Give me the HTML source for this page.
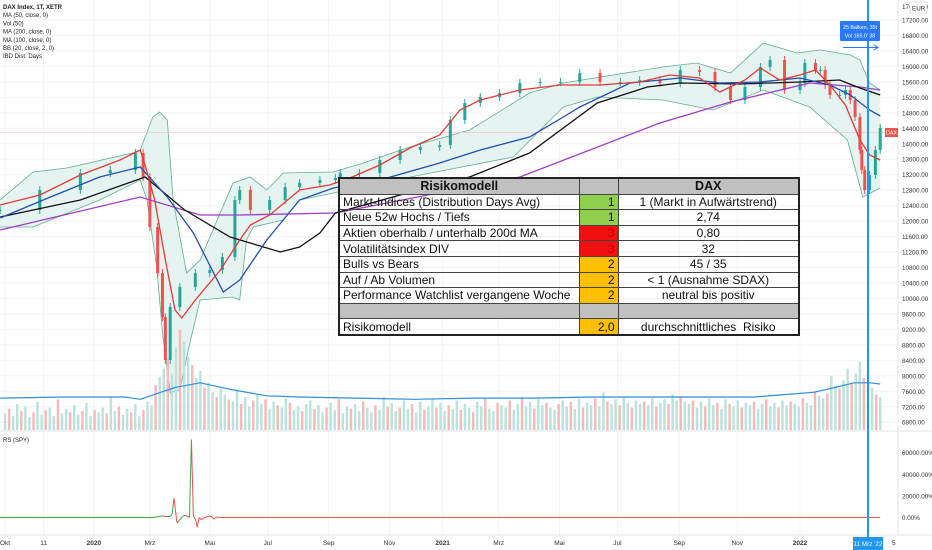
<!DOCTYPE html>
<html><head><meta charset="utf-8"><style>
body{margin:0;background:#fff;font-family:"Liberation Sans",Arial,sans-serif}
#wrap{position:relative;width:932px;height:550px;overflow:hidden}
svg text{font-family:"Liberation Sans",Arial,sans-serif}
table{position:absolute;left:338px;top:177px;width:460px;table-layout:fixed;border-collapse:collapse;font-size:12px;color:#111}
td{border:1px solid #444;height:14.6px;padding:0 3px;line-height:14px;white-space:nowrap;overflow:hidden}
</style></head><body><div id="wrap">
<svg id="s" width="932" height="550"></svg>
<table style="border:2px solid #222">
<colgroup><col style="width:240px"><col style="width:39px"><col style="width:181px"></colgroup>
<tr style="background:#c0c0c0;font-weight:bold;font-size:12.5px"><td style="text-align:center">Risikomodell</td><td></td><td style="text-align:center">DAX</td></tr>
<tr><td>Markt-Indices (Distribution Days Avg)</td><td style="background:#8fce4e;text-align:right">1</td><td style="text-align:center">1 (Markt in Aufwärtstrend)</td></tr>
<tr><td>Neue 52w Hochs / Tiefs</td><td style="background:#8fce4e;text-align:right">1</td><td style="text-align:center">2,74</td></tr>
<tr><td>Aktien oberhalb / unterhalb 200d MA</td><td style="background:#f01010;color:#b00;text-align:right">3</td><td style="text-align:center">0,80</td></tr>
<tr><td>Volatilitätsindex DIV</td><td style="background:#f01010;color:#b00;text-align:right">3</td><td style="text-align:center">32</td></tr>
<tr><td>Bulls vs Bears</td><td style="background:#fdbf00;text-align:right">2</td><td style="text-align:center">45 / 35</td></tr>
<tr><td>Auf / Ab Volumen</td><td style="background:#fdbf00;text-align:right">2</td><td style="text-align:center">&lt; 1 (Ausnahme SDAX)</td></tr>
<tr><td>Performance Watchlist vergangene Woche</td><td style="background:#fdbf00;text-align:right">2</td><td style="text-align:center">neutral bis positiv</td></tr>
<tr style="background:#c0c0c0"><td></td><td></td><td></td></tr>
<tr><td>Risikomodell</td><td style="background:#fdbf00;text-align:right">2,0</td><td style="text-align:center">durchschnittliches&nbsp; Risiko</td></tr>
</table>
</div>
<script>
// x values: calendar day offsets from 1 Oct 2019
const closeDays=[-5,36,78,109,135,143,150,158,163,166,171,181,197,212,225,238,243,254,274,290,305,326,342,347,367,388,409,430,450,461,476,492,512,533,554,575,595,616,637,657,678,699,719,735,751,766,782,792,807,823,828,839,844,849,854,864,870,875,880,885,887,890,895,901,906];
const closes=[12287,12804,13243,13321,13761,13140,11847,10657,9520,8408,9778,10295,10657,10735,11071,12545,12804,12287,12545,12881,12985,13062,13114,13243,13243,13580,13839,13916,13968,14614,15054,15209,15312,15571,15597,15597,15830,15597,15597,15648,15571,15907,15855,15467,15131,15467,15985,16166,15390,15571,16088,15907,15907,15519,15261,15261,15390,15131,14692,13839,13321,12804,13192,13839,14407];
const ma20Days=[-5,36,78,119,140,145,155,166,176,183,197,223,243,254,274,305,336,357,388,419,450,471,492,533,575,616,657,688,719,740,766,782,802,823,839,854,870,885,895,906];
const ma20=[12416,12675,13192,13580,13839,13450,12545,10993,9701,9494,9959,10735,11511,11899,12157,12804,12933,13114,13450,13890,14226,14873,15131,15390,15519,15519,15597,15778,15700,15338,15648,15959,15648,15778,15907,15519,15002,14097,13709,13580];
const ma50Days=[-5,47,98,140,168,195,226,243,271,305,340,388,450,492,543,578,595,647,699,740,782,823,854,875,895,906];
const ma50=[12080,12623,13140,13398,12623,11692,10166,10476,11511,12545,12856,13062,13502,13839,14174,14692,14950,15571,15700,15571,15597,15700,15519,15261,14873,14717];
const ma100Days=[-5,78,145,186,233,285,305,326,342,409,481,543,613,665,699,761,823,864,885,906];
const ma100=[12106,12545,13140,12287,11589,11201,11330,11692,12209,12675,13140,13761,15054,15467,15571,15545,15597,15648,15441,15261];
const ma200Days=[-5,140,202,243,342,533,678,751,833,885,906];
const ma200=[11770,12623,12157,12157,12209,13140,14537,15079,15571,15467,15390];
const bbUpDays=[-5,29,64,132,140,153,160,168,174,188,202,236,254,271,288,340,371,419,481,543,578,681,716,751,785,820,844,875,885,895,906];
const bbUp=[12545,13269,13373,13761,13839,14692,14821,14614,12545,10657,10993,12985,13140,12804,13243,13269,13502,13916,14356,15312,15571,15985,16088,15830,16605,16347,16424,16295,16166,15571,15390];
const bbLowDays=[-5,29,98,140,147,157,163,171,181,192,202,236,243,250,257,288,305,340,430,526,578,613,681,733,785,833,872,888,906];
const bbLow=[11847,11847,12545,13062,12545,10812,9106,7554,7632,8925,9959,10037,9959,11511,11847,12028,12545,12726,13192,13657,14950,15209,15131,14873,15390,14950,14097,12623,12856];
const vols=[14,18,12,22,16,20,11,15,24,13,17,19,12,26,14,18,15,21,13,16,23,12,17,15,19,14,28,16,20,13,18,15,22,12,17,24,21,38,45,52,60,48,70,85,75,62,55,44,50,36,40,32,28,35,30,26,24,33,22,28,20,25,30,22,26,18,24,21,19,27,23,17,20,16,22,25,18,21,15,19,23,17,26,14,20,18,22,16,24,19,15,21,17,28,20,23,16,19,25,18,22,15,24,17,20,26,19,23,16,21,18,25,17,22,19,15,24,20,27,18,16,23,21,19,25,17,22,28,20,24,18,26,21,23,19,17,22,25,20,24,18,26,19,23,21,27,20,32,24,22,26,21,28,23,19,25,22,24,21,27,20,23,26,22,30,25,28,24,22,25,19,24,20,27,21,23,18,26,22,20,25,19,23,21,24,18,22,26,20,23,19,25,21,24,22,20,27,23,21,33,29,27,31,46,38,35,42,52,40,48,58,44,50,36,30,28];
const volMaDays=[-5,62,124,140,176,202,236,271,305,362,424,486,548,610,672,735,776,807,838,859,879,895,906];
const volMa=[27,28,28,26,36,40,34,29,28,27,26,27,27,28,28,28,28,30,32,36,40,40,39];
const rsDays=[-5,153,158,163,167,171,173,175,178,184,187,191,193,195,197,199,201,203,208,213,216,219,223,300,906];
const rsVals=[0,0,600,1500,800,1200,3000,18000,-5000,1200,2000,0,72000,1000,-1000,-9000,0,-2000,500,1500,-1500,300,0,0,0];
const yTicks=[17200,16800,16400,16000,15600,15200,14800,14400,14000,13600,13200,12800,12400,12000,11600,11200,10800,10400,10000,9600,9200,8800,8400,8000,7600,7200,6800];
const rsTicks=[60000,40000,20000,0];
const dateLabels=["Okt","11","2020","Mrz","Mai","Jul","Sep","Nov","2021","Mrz","Mai","Jul","Sep","Nov","2022"];
const dateDays=[0,40,92,150,212,272,335,398,453,511,574,634,698,758,823];

const X=d=>5+d*0.966;
const Y=p=>20+(17200-p)*0.038675;
const VY=v=>430-v*1.18;
const RY=v=>517.5-v*0.001081;
const s=document.getElementById('s');const NS='http://www.w3.org/2000/svg';
function el(t,a,p){const e=document.createElementNS(NS,t);for(const k in a)e.setAttribute(k,a[k]);(p||s).appendChild(e);return e;}
function pts(ds,vs,f){return ds.map((d,i)=>X(d).toFixed(1)+','+f(vs[i]).toFixed(1));}
yTicks.forEach(t=>{const g=el('line',{x1:0,x2:898,y1:Y(t),y2:Y(t),stroke:'#f4f4f4'});});
dateDays.forEach(d=>{const g=el('line',{x1:X(d),x2:X(d),y1:0,y2:535,stroke:'#f4f4f4'});});
const bf=el('polygon',{points:pts(bbUpDays,bbUp,Y).concat(pts(bbLowDays,bbLow,Y).reverse()).join(' '),fill:'#e6f4f1',stroke:'none'});

[[bbUpDays,bbUp,'bollinger-upper'],[bbLowDays,bbLow,'bollinger-lower']].forEach(([d,v,n])=>{const l=el('polyline',{points:pts(d,v,Y).join(' '),fill:'none',stroke:'#5fae98','stroke-width':0.8});});
vols.forEach((v,i)=>{const d=i*906/(vols.length-1);const up=i%3!==1;const r=el('rect',{x:X(d)-1.2,y:VY(v),width:2.4,height:430-VY(v),fill:up?'#b9e3dc':'#f7b8b8'});});
const vm=el('polyline',{points:pts(volMaDays,volMa,VY).join(' '),fill:'none',stroke:'#2f8fd8','stroke-width':1.2});
const pl=el('line',{x1:0,x2:898,y1:132.5,y2:132.5,stroke:'#f9c7c7','stroke-width':0.8});
closes.forEach((c,i)=>{const o=i?closes[i-1]:c;const up=c>=o;const col=up?'#26a69a':'#ef5350';const x=X(closeDays[i]);
const w=el('line',{x1:x,x2:x,y1:Y(Math.max(o,c))-4,y2:Y(Math.min(o,c))+4,stroke:col,'stroke-width':1});
const r=el('rect',{x:x-1.5,y:Y(Math.max(o,c)),width:3,height:Math.max(1,Math.abs(Y(o)-Y(c))),fill:col});});
[[ma200Days,ma200,'#a03cc8','ma-200'],[ma100Days,ma100,'#111','ma-100'],[ma50Days,ma50,'#1f4fb0','ma-50'],[ma20Days,ma20,'#e53935','bollinger-basis']].forEach(([d,v,c,n])=>{const l=el('polyline',{points:pts(d,v,Y).join(' '),fill:'none',stroke:c,'stroke-width':1.3});});
const dv=el('line',{x1:0,x2:932,y1:431,y2:431,stroke:'#e0e3eb'});
for(let i=1;i<rsDays.length;i++){const l=el('line',{x1:X(rsDays[i-1]),y1:RY(rsVals[i-1]),x2:X(rsDays[i]),y2:RY(rsVals[i]),stroke:(rsDays[i]>150&&rsDays[i]<200&&rsVals[i]>=rsVals[i-1])?'#43a047':'#ef5350','stroke-width':1});}
const ax=el('line',{x1:898,x2:898,y1:0,y2:535,stroke:'#e0e3eb'});
const bx=el('line',{x1:0,x2:932,y1:535,y2:535,stroke:'#e0e3eb'});
yTicks.forEach(t=>{const e=el('text',{x:902,y:Y(t)+2.5,'font-size':6.3,fill:'#333'});e.textContent=t.toFixed(2);});
const tt=el('text',{x:902,y:9,'font-size':6.3,fill:'#333'});tt.textContent='17600.00';
const eb=el('rect',{x:910,y:2,width:17,height:11,fill:'#fff',stroke:'#ccc','stroke-width':0.6});
const et=el('text',{x:912,y:10.5,'font-size':6.3,fill:'#333'});et.textContent='EUR';
rsTicks.forEach(t=>{const e=el('text',{x:902,y:RY(t)+2.5,'font-size':6.3,fill:'#333'});e.textContent=t.toFixed(2)+'%';});
dateLabels.forEach((t,i)=>{const e=el('text',{x:X(dateDays[i]),y:545,'font-size':6.5,fill:'#333','text-anchor':'middle','font-weight':t.match(/^20/)?'bold':'normal'});e.textContent=t;});
const f5=el('text',{x:892,y:545,'font-size':6.5,fill:'#333'});f5.textContent='5';
const ch=el('line',{x1:868,x2:868,y1:0,y2:537,stroke:'#2196f3','stroke-width':2});
const cb=el('rect',{x:853,y:537,width:30,height:13,fill:'#2196f3'});
const ct=el('text',{x:868,y:546,'font-size':6.3,fill:'#fff','text-anchor':'middle'});ct.textContent="11 Mrz '22";
const tb=el('rect',{x:840,y:21,width:40,height:20,fill:'#2979ff',rx:1});
const t1=el('text',{x:860,y:29,'font-size':5.3,fill:'#fff','text-anchor':'middle'});t1.textContent='25 Balken, 35t';
const t2=el('text',{x:860,y:37.5,'font-size':5.3,fill:'#fff','text-anchor':'middle'});t2.textContent="Vol 165.0' 38";
const ar=el('line',{x1:843,x2:878,y1:47.5,y2:47.5,stroke:'#2979ff','stroke-width':1});
const ah=el('polyline',{points:'874,45 878,47.5 874,50',fill:'none',stroke:'#2979ff'});
const db=el('rect',{x:885,y:128,width:13,height:9,fill:'#ef5350'});
const dt=el('text',{x:891.5,y:134.5,'font-size':5.3,fill:'#fff','text-anchor':'middle'});dt.textContent='DAX';
['DAX Index, 1T, XETR','MA (50, close, 0)','Vol (50)','MA (200, close, 0)','MA (100, close, 0)','BB (20, close, 2, 0)','IBD Dist. Days'].forEach((t,i)=>{const e=el('text',{x:3,y:9+i*8.2,'font-size':6,fill:'#222','font-weight':i?'normal':'bold'});e.textContent=t;});
const rl=el('text',{x:3,y:442,'font-size':6,fill:'#222'});rl.textContent='RS (SPY)';
</script></body></html>
